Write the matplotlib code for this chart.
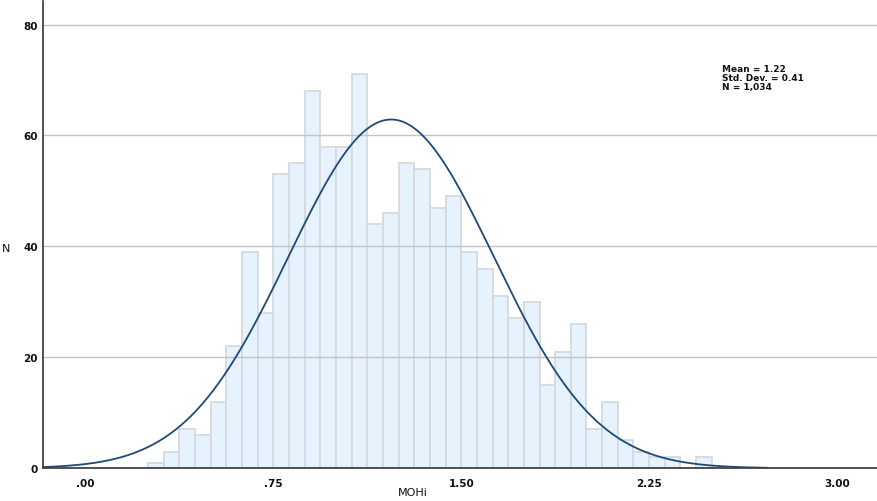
import numpy as np
import matplotlib
matplotlib.use("Agg")
import matplotlib.pyplot as plt

# ---- data ----
bin_start = 0.25
bin_width = 0.0625
counts = [1, 3, 7, 6, 12, 22, 39, 28, 53, 55, 68, 58, 58, 71, 44, 46, 55, 54,
          47, 49, 39, 36, 31, 27, 30, 15, 21, 26, 7, 12, 5, 3, 2, 2, 0, 2]
mean_val = 1.22
sd_val = 0.41
n_val = 1034
xtick_vals = [0.0, 0.75, 1.50, 2.25, 3.00]
xtick_labels = [".00", ".75", "1.50", "2.25", "3.00"]
ytick_vals = [0, 20, 40, 60, 80]
stats_lines = ["Mean = 1.22", "Std. Dev. = 0.41", "N = 1,034"]

W, H = 878, 502
fig = plt.figure(figsize=(W / 100, H / 100), dpi=100)
ax_left, ax_right = 43.5, 877.5
ax_top, ax_bottom = 1.7, 469.2
ax = fig.add_axes([ax_left / W, (H - ax_bottom) / H,
                   (ax_right - ax_left) / W, (ax_bottom - ax_top) / H])

lefts = bin_start + bin_width * np.arange(len(counts))
ax.bar(lefts, counts, width=bin_width, align="edge",
       color="#E6F2FD", edgecolor="#D6DADD", linewidth=1.3, zorder=1)

# gridlines drawn over bars
for yv in ytick_vals[1:]:
    ax.axhline(yv, color="#C4C4C4", linewidth=1.0, zorder=2)

# normal curve
xs = np.linspace(-0.17, 2.72, 400)
ys = n_val * bin_width / (sd_val * np.sqrt(2 * np.pi)) * np.exp(-0.5 * ((xs - mean_val) / sd_val) ** 2)
ax.plot(xs, ys, color="#1F4A78", linewidth=1.3, zorder=3)

ax.set_xlim(-0.168, 3.162)
ax.set_ylim(0, 84.3)

ax.set_xticks(xtick_vals)
ax.set_xticklabels(xtick_labels, fontsize=7.5, fontweight="bold", color="#111111")
ax.set_yticks(ytick_vals)
ax.set_yticklabels([str(v) for v in ytick_vals], fontsize=7.5, fontweight="bold", color="#111111")
ax.tick_params(axis="x", length=0, pad=7)
ax.tick_params(axis="y", length=0, pad=4)

for s in ["top", "right"]:
    ax.spines[s].set_visible(False)
for s in ["left", "bottom"]:
    ax.spines[s].set_color("#333333")
    ax.spines[s].set_linewidth(1.2)

ax.set_ylabel("N", rotation=0, fontsize=8, color="#111111")
ax.yaxis.set_label_coords((6 - ax_left) / (ax_right - ax_left), (ax_bottom - 249) / (ax_bottom - ax_top))
ax.set_xlabel("MOHi", fontsize=8, color="#111111")
ax.xaxis.set_label_coords((413 - ax_left) / (ax_right - ax_left), (ax_bottom - 493) / (ax_bottom - ax_top))
ax.yaxis.label.set_va("center")
ax.xaxis.label.set_va("center")

for i, line in enumerate(stats_lines):
    fig.text(722.5 / W, 1 - (69 + 9.3 * i) / H, line, fontsize=6.5,
             fontweight="bold", color="#111111", va="center", ha="left")

fig.savefig("out.png", dpi=100)
